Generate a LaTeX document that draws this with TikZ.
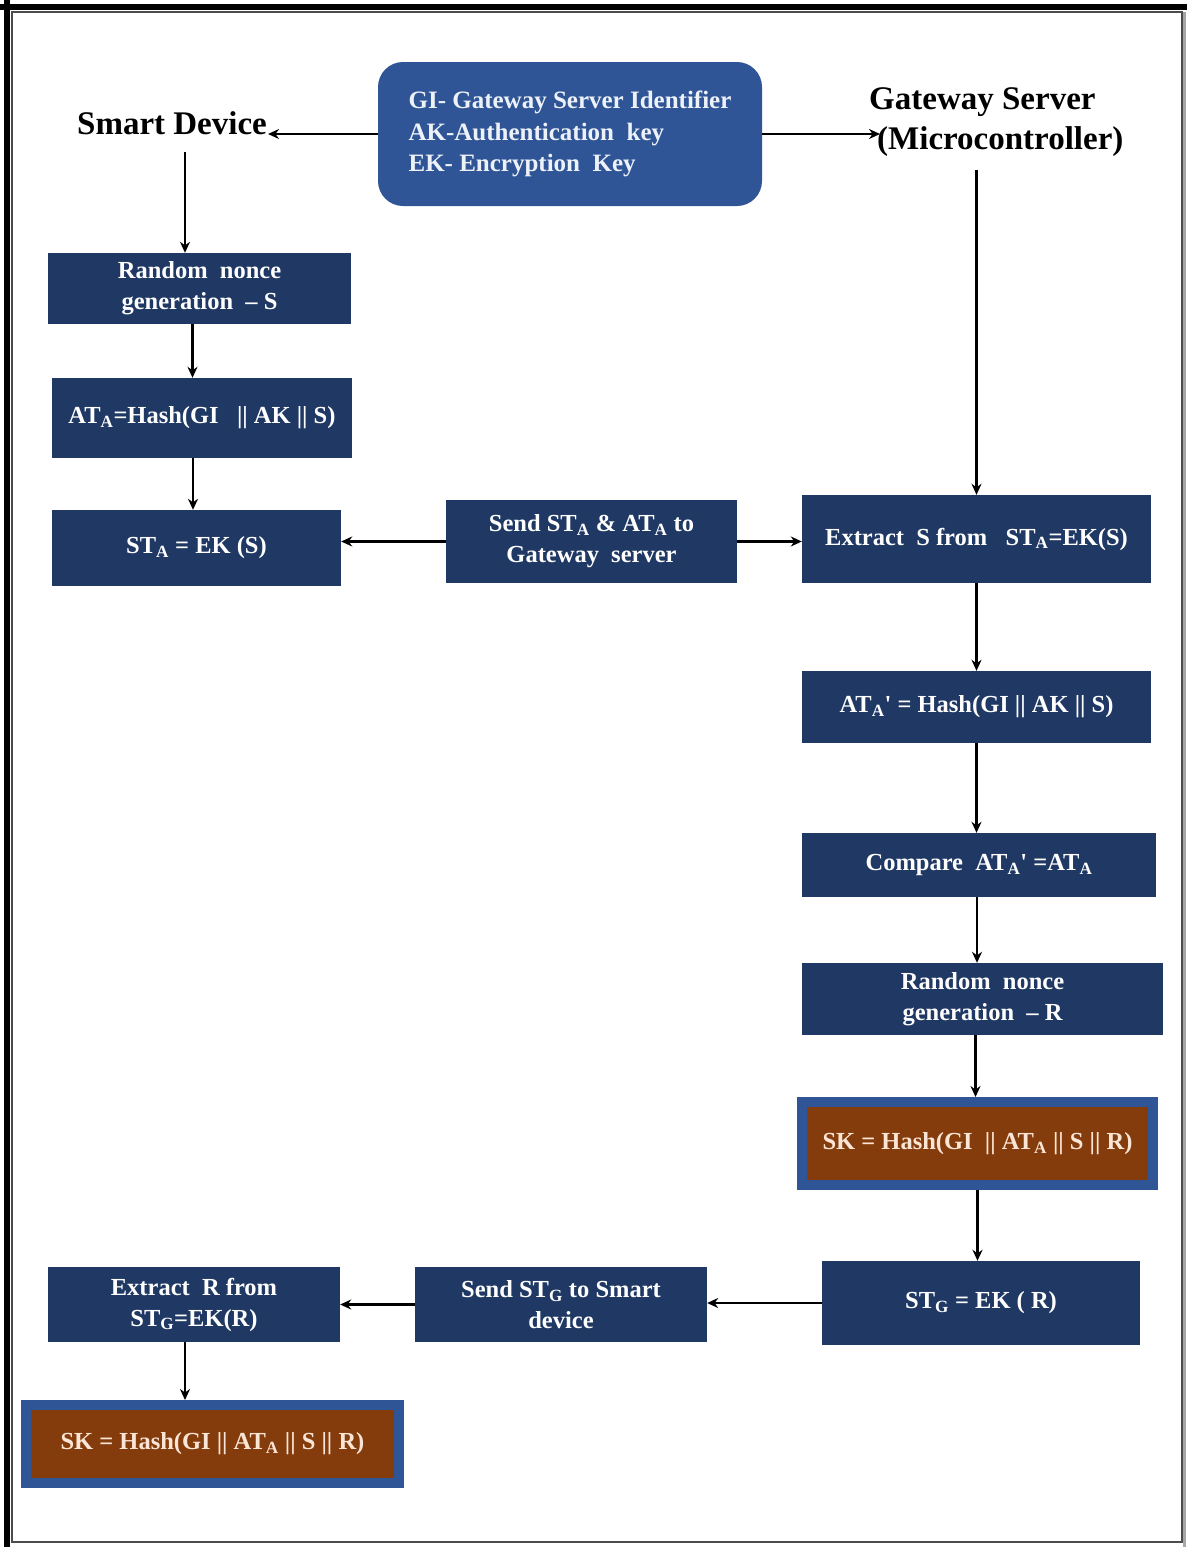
\documentclass[tikz,border=0pt]{standalone}
\usepackage{fontspec}
\setmainfont{Liberation Serif}
\usetikzlibrary{arrows.meta}
\definecolor{navy}{HTML}{203864}
\definecolor{midblue}{HTML}{2F5597}
\definecolor{rust}{HTML}{843C0C}
\definecolor{cream}{HTML}{FBE5D6}
\definecolor{paleblue}{HTML}{EDF1F8}
\newcommand{\sub}[1]{\textsubscript{#1}}
\newcommand{\apos}{\textquotesingle}
\tikzset{
  nbox/.style={fill=navy, text=white, inner sep=2pt, align=center,
    font=\fontsize{24.5}{31}\selectfont\bfseries},
  skbox/.style={fill=rust, draw=midblue, line width=10pt, text=cream, align=center,
    font=\fontsize{24.5}{31}\selectfont\bfseries},
  heading/.style={text=black, align=center, font=\fontsize{33}{40}\selectfont\bfseries, inner sep=1pt},
  conn/.style={draw=black, line width=2.5pt, -{Stealth[length=11pt,width=10pt]}},
}
\begin{document}
\begin{tikzpicture}[x=1pt,y=-1pt]
\useasboundingbox (0,0) rectangle (1187,1547);
\fill[white] (0,0) rectangle (1187,1547);
% frame
\draw[black!70, line width=1.5pt] (12,12) rectangle (1182,1542);
\draw[black, line width=6pt] (7,0) -- (7,1547);
\draw[black, line width=6pt] (0,7) -- (1187,7);
\draw[black!35, line width=3pt] (1184,12) -- (1184,1547);

% title box
\node[fill=midblue, rounded corners=25pt, minimum width=384pt, minimum height=144pt,
  text=paleblue, align=left, font=\fontsize{25}{31.5}\selectfont\bfseries] (title) at (570,134)
  {GI- Gateway Server Identifier\\AK-Authentication\ \ key\\EK- Encryption\ \ Key};

% headings
\node[heading] (sd) at (172,123) {Smart Device};
\node[heading, align=left, anchor=west] (gw) at (868,122) {Gateway Server\\\hspace*{8pt}(Microcontroller)};
\coordinate (sdtop) at (185,152);
\coordinate (gwtop) at (976.5,170);

% left column
\node[nbox, minimum width=303pt, minimum height=71pt] (b1) at (199.5,288.5) {Random\ \ nonce\\generation\ \ -- S};
\node[nbox, minimum width=300pt, minimum height=80pt] (b2) at (202,418) {AT\sub{A}=Hash(GI\ \ \ || AK || S)};
\node[nbox, minimum width=289pt, minimum height=76pt] (b3) at (196.5,548) {ST\sub{A} = EK (S)};
\node[nbox, minimum width=291pt, minimum height=83pt] (m1) at (591.5,541.5) {Send ST\sub{A} \& AT\sub{A} to\\Gateway\ \ server};

% right column
\node[nbox, minimum width=349pt, minimum height=88pt] (r1) at (976.5,539) {Extract\ \ S from\ \ \ ST\sub{A}=EK(S)};
\node[nbox, minimum width=349pt, minimum height=72pt] (r2) at (976.5,707) {AT\sub{A}\apos{} = Hash(GI || AK || S)};
\node[nbox, minimum width=354pt, minimum height=64pt] (r3) at (979,865) {Compare\ \ AT\sub{A}\apos{} =AT\sub{A}};
\node[nbox, minimum width=361pt, minimum height=72pt] (r4) at (982.5,999) {Random\ \ nonce\\generation\ \ -- R};
\node[skbox, minimum width=351pt, minimum height=83pt] (r5) at (977.5,1143.5) {SK = Hash(GI\ \ || AT\sub{A} || S || R)};
\node[nbox, minimum width=318pt, minimum height=84pt] (r6) at (981,1303) {ST\sub{G} = EK ( R)};

% bottom row
\node[nbox, minimum width=292pt, minimum height=75pt] (m2) at (561,1304.5) {Send ST\sub{G} to Smart\\device};
\node[nbox, minimum width=292pt, minimum height=75pt] (l6) at (194,1304.5) {Extract\ \ R from\\ST\sub{G}=EK(R)};
\node[skbox, minimum width=373pt, minimum height=78pt] (l7) at (212.5,1444) {SK = Hash(GI || AT\sub{A} || S || R)};

% connectors
\draw[conn] (title.west) -- (title.west -| sd.east);
\draw[conn] (title.east) -- ([xshift=12pt]title.east -| gw.west);
\draw[conn] (sdtop) -- (sdtop |- b1.north);
\draw[conn] ([xshift=-7pt]b1.south) -- ([xshift=-7pt]b1.south |- b2.north);
\draw[conn] ([xshift=-9pt]b2.south) -- ([xshift=-9pt]b2.south |- b3.north);
\draw[conn] (m1.west) -- (m1.west -| b3.east);
\draw[conn] (m1.east) -- (m1.east -| r1.west);
\draw[conn] (gwtop) -- (gwtop |- r1.north);
\draw[conn] (r1.south) -- (r1.south |- r2.north);
\draw[conn] (r2.south) -- (r2.south |- r3.north);
\draw[conn] ([xshift=-2pt]r3.south) -- ([xshift=-2pt]r3.south |- r4.north);
\draw[conn] ([xshift=-7pt]r4.south) -- ([xshift=-7pt]r4.south |- r5.north);
\draw[conn] (r5.south) -- (r5.south |- r6.north);
\draw[conn] (r6.west) -- (r6.west -| m2.east);
\draw[conn] (m2.west) -- (m2.west -| l6.east);
\draw[conn] ([xshift=-9pt]l6.south) -- ([xshift=-9pt]l6.south |- l7.north);
\end{tikzpicture}
\end{document}
